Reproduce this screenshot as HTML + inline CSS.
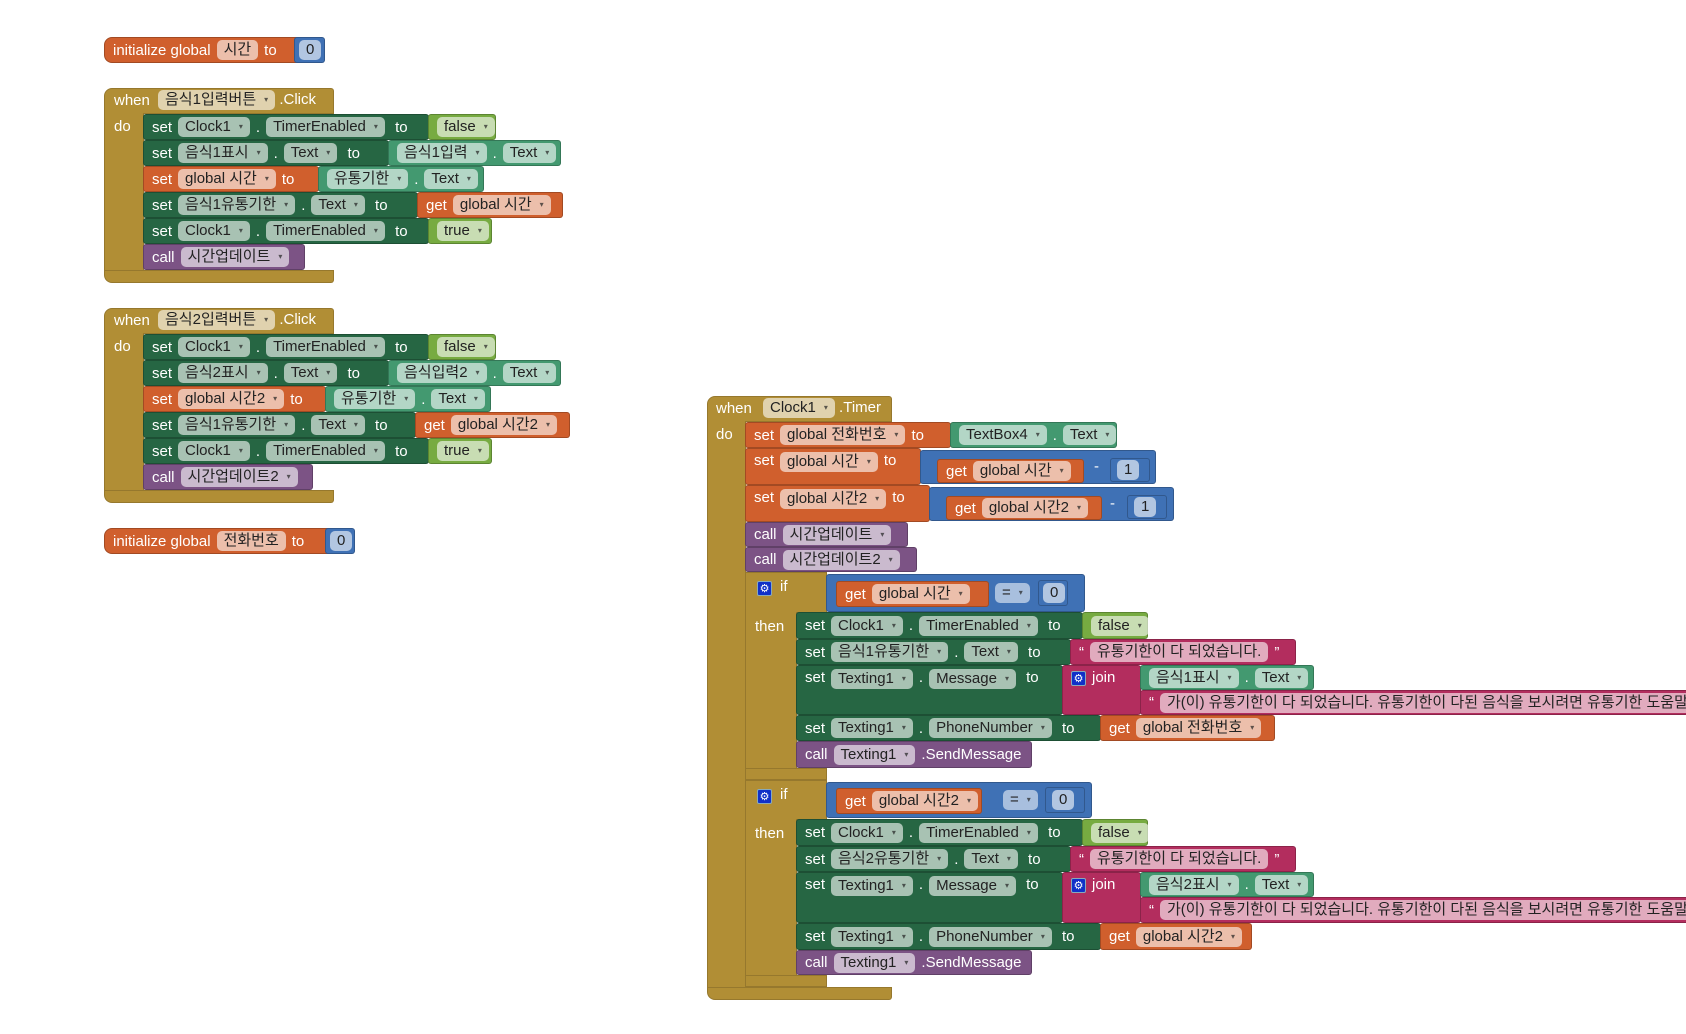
<!DOCTYPE html>
<html><head><meta charset="utf-8">
<style>
html,body{margin:0;width:1686px;height:1034px;overflow:hidden}
body{background:#fff;position:relative;font-family:"Liberation Sans","Noto Sans CJK KR",sans-serif;font-size:15px}
.b{position:absolute;box-sizing:border-box;display:flex;align-items:center;padding-left:8px;gap:6px;color:#fff;white-space:nowrap;border:1px solid rgba(0,0,0,.22);border-radius:3px;overflow:visible}
.top{align-items:flex-start;padding-top:3px}
.p{background:rgba(255,255,255,.6);color:#222;border-radius:5px;padding:0 7px;height:20px;line-height:20px;display:inline-block}
.p i{font-style:normal;font-size:8px;margin-left:8px;vertical-align:2px;opacity:.7}
.g{background:#b18e35}.dg{background:#266643}.tl{background:#439970}.or{background:#d05f2d}
.pu{background:#7c5385}.lm{background:#77ab41}.bl{background:#3f71b5}.mg{background:#b32d5e}
.gd{position:absolute;background:#b18e35;border:1px solid rgba(0,0,0,.15);box-sizing:border-box}
.lbl{position:absolute;color:#fff;font-size:15px}
.gear{display:inline-block;width:15px;height:15px;background:#1030c8;border:1px solid #8ab;border-radius:2px;color:#fff;font-size:11px;line-height:15px;text-align:center;box-sizing:border-box}
.clip{overflow:hidden;border-right:none;border-radius:3px 0 0 3px}
</style></head><body>

<div class="b or" style="left:104px;top:37px;width:193px;height:26px;border-radius:8px 0 0 8px">initialize global <span class="p">시간</span> to</div>
<div class="b bl" style="left:294px;top:37px;width:31px;height:26px;padding-left:4px"><span class="p">0</span></div>

<div class="gd" style="left:104px;top:88px;width:230px;height:26px;border-radius:8px 3px 0 0"></div>
<div class="lbl" style="left:114px;top:92px">when</div>
<div class="lbl" style="left:158px;top:90px"><span class="p" style="color:#222">음식1입력버튼<i>▾</i></span> .Click</div>
<div class="gd" style="left:104px;top:113px;width:40px;height:160px;border-top:none"></div>
<div class="lbl" style="left:114px;top:118px">do</div>
<div class="gd" style="left:104px;top:270px;width:230px;height:13px;border-radius:0 0 3px 8px"></div>

<div class="b dg" style="left:143px;top:114px;width:286px;height:26px">set <span class="p">Clock1<i>▾</i></span>.<span class="p">TimerEnabled<i>▾</i></span>&nbsp;to</div>
<div class="b lm" style="left:428px;top:114px;width:68px;height:26px"><span class="p">false<i>▾</i></span></div>
<div class="b dg" style="left:143px;top:140px;width:246px;height:26px">set <span class="p">음식1표시<i>▾</i></span>.<span class="p">Text<i>▾</i></span>&nbsp;to</div>
<div class="b tl" style="left:388px;top:140px;width:173px;height:26px"><span class="p">음식1입력<i>▾</i></span>.<span class="p">Text<i>▾</i></span></div>
<div class="b or" style="left:143px;top:166px;width:176px;height:26px">set<span class="p">global 시간<i>▾</i></span>to</div>
<div class="b tl" style="left:318px;top:166px;width:166px;height:26px"><span class="p">유통기한<i>▾</i></span>.<span class="p">Text<i>▾</i></span></div>
<div class="b dg" style="left:143px;top:192px;width:275px;height:26px">set <span class="p">음식1유통기한<i>▾</i></span>.<span class="p">Text<i>▾</i></span>&nbsp;to</div>
<div class="b or" style="left:417px;top:192px;width:146px;height:26px">get<span class="p">global 시간<i>▾</i></span></div>
<div class="b dg" style="left:143px;top:218px;width:286px;height:26px">set <span class="p">Clock1<i>▾</i></span>.<span class="p">TimerEnabled<i>▾</i></span>&nbsp;to</div>
<div class="b lm" style="left:428px;top:218px;width:64px;height:26px"><span class="p">true<i>▾</i></span></div>
<div class="b pu" style="left:143px;top:244px;width:162px;height:26px">call <span class="p">시간업데이트<i>▾</i></span></div>

<div class="gd" style="left:104px;top:308px;width:230px;height:26px;border-radius:8px 3px 0 0"></div>
<div class="lbl" style="left:114px;top:312px">when</div>
<div class="lbl" style="left:158px;top:310px"><span class="p" style="color:#222">음식2입력버튼<i>▾</i></span> .Click</div>
<div class="gd" style="left:104px;top:333px;width:40px;height:160px;border-top:none"></div>
<div class="lbl" style="left:114px;top:338px">do</div>
<div class="gd" style="left:104px;top:490px;width:230px;height:13px;border-radius:0 0 3px 8px"></div>

<div class="b dg" style="left:143px;top:334px;width:286px;height:26px">set <span class="p">Clock1<i>▾</i></span>.<span class="p">TimerEnabled<i>▾</i></span>&nbsp;to</div>
<div class="b lm" style="left:428px;top:334px;width:68px;height:26px"><span class="p">false<i>▾</i></span></div>
<div class="b dg" style="left:143px;top:360px;width:246px;height:26px">set <span class="p">음식2표시<i>▾</i></span>.<span class="p">Text<i>▾</i></span>&nbsp;to</div>
<div class="b tl" style="left:388px;top:360px;width:173px;height:26px"><span class="p">음식입력2<i>▾</i></span>.<span class="p">Text<i>▾</i></span></div>
<div class="b or" style="left:143px;top:386px;width:183px;height:26px">set<span class="p">global 시간2<i>▾</i></span>to</div>
<div class="b tl" style="left:325px;top:386px;width:166px;height:26px"><span class="p">유통기한<i>▾</i></span>.<span class="p">Text<i>▾</i></span></div>
<div class="b dg" style="left:143px;top:412px;width:273px;height:26px">set <span class="p">음식1유통기한<i>▾</i></span>.<span class="p">Text<i>▾</i></span>&nbsp;to</div>
<div class="b or" style="left:415px;top:412px;width:155px;height:26px">get<span class="p">global 시간2<i>▾</i></span></div>
<div class="b dg" style="left:143px;top:438px;width:286px;height:26px">set <span class="p">Clock1<i>▾</i></span>.<span class="p">TimerEnabled<i>▾</i></span>&nbsp;to</div>
<div class="b lm" style="left:428px;top:438px;width:64px;height:26px"><span class="p">true<i>▾</i></span></div>
<div class="b pu" style="left:143px;top:464px;width:170px;height:26px">call <span class="p">시간업데이트2<i>▾</i></span></div>

<div class="b or" style="left:104px;top:528px;width:224px;height:26px;border-radius:8px 0 0 8px">initialize global <span class="p">전화번호</span> to</div>
<div class="b bl" style="left:325px;top:528px;width:30px;height:26px;padding-left:4px"><span class="p">0</span></div>

<div class="gd" style="left:707px;top:396px;width:185px;height:26px;border-radius:8px 3px 0 0"></div>
<div class="lbl" style="left:716px;top:400px">when</div>
<div class="lbl" style="left:763px;top:398px"><span class="p" style="color:#222">Clock1<i>▾</i></span> .Timer</div>
<div class="gd" style="left:707px;top:421px;width:39px;height:570px;border-top:none"></div>
<div class="lbl" style="left:716px;top:426px">do</div>
<div class="gd" style="left:707px;top:987px;width:185px;height:13px;border-radius:0 0 3px 8px"></div>

<div class="b or" style="left:745px;top:422px;width:206px;height:26px">set<span class="p">global 전화번호<i>▾</i></span>to</div>
<div class="b tl" style="left:950px;top:422px;width:167px;height:26px"><span class="p">TextBox4<i>▾</i></span>.<span class="p">Text<i>▾</i></span></div>

<div class="b or top" style="left:745px;top:448px;width:176px;height:37px">set<span class="p">global 시간<i>▾</i></span>to</div>
<div class="b bl" style="left:920px;top:450px;width:236px;height:34px"></div>
<div class="b or" style="left:937px;top:459px;width:147px;height:24px">get<span class="p">global 시간<i>▾</i></span></div>
<div class="lbl" style="left:1094px;top:458px">-</div>
<div class="b bl" style="left:1110px;top:458px;width:40px;height:24px;padding-left:6px"><span class="p">1</span></div>

<div class="b or top" style="left:745px;top:485px;width:185px;height:37px">set<span class="p">global 시간2<i>▾</i></span>to</div>
<div class="b bl" style="left:929px;top:487px;width:245px;height:34px"></div>
<div class="b or" style="left:946px;top:496px;width:156px;height:24px">get<span class="p">global 시간2<i>▾</i></span></div>
<div class="lbl" style="left:1110px;top:495px">-</div>
<div class="b bl" style="left:1127px;top:495px;width:40px;height:24px;padding-left:6px"><span class="p">1</span></div>

<div class="b pu" style="left:745px;top:522px;width:163px;height:25px">call <span class="p">시간업데이트<i>▾</i></span></div>
<div class="b pu" style="left:745px;top:547px;width:172px;height:25px">call <span class="p">시간업데이트2<i>▾</i></span></div>

<div class="gd" style="left:745px;top:572px;width:82px;height:41px"></div>
<div class="gd" style="left:745px;top:612px;width:52px;height:160px;border-top:none"></div>
<div class="gd" style="left:745px;top:768px;width:82px;height:12px"></div>
<div class="lbl" style="left:757px;top:579px"><span class="gear">⚙</span></div>
<div class="lbl" style="left:780px;top:578px">if</div>
<div class="lbl" style="left:755px;top:618px">then</div>
<div class="b bl" style="left:826px;top:574px;width:259px;height:38px"></div>
<div class="b or" style="left:836px;top:581px;width:153px;height:26px">get<span class="p">global 시간<i>▾</i></span></div>
<div class="lbl" style="left:995px;top:583px"><span class="p" style="color:#222;background:rgba(255,255,255,.55)">=<i>▾</i></span></div>
<div class="b bl" style="left:1038px;top:580px;width:30px;height:26px;padding-left:4px"><span class="p">0</span></div>

<div class="b dg" style="left:796px;top:612px;width:287px;height:27px">set <span class="p">Clock1<i>▾</i></span>.<span class="p">TimerEnabled<i>▾</i></span>&nbsp;to</div>
<div class="b lm" style="left:1082px;top:612px;width:66px;height:27px"><span class="p">false<i>▾</i></span></div>
<div class="b dg" style="left:796px;top:639px;width:275px;height:26px">set <span class="p">음식1유통기한<i>▾</i></span>.<span class="p">Text<i>▾</i></span>&nbsp;to</div>
<div class="b mg" style="left:1070px;top:639px;width:226px;height:26px">“<span class="p">유통기한이 다 되었습니다.</span>”</div>
<div class="b dg top" style="left:796px;top:665px;width:267px;height:50px">set <span class="p">Texting1<i>▾</i></span>.<span class="p">Message<i>▾</i></span>&nbsp;to</div>
<div class="b mg top" style="left:1062px;top:665px;width:79px;height:50px"><span class="gear" style="margin-top:2px">⚙</span>join</div>
<div class="b tl" style="left:1140px;top:665px;width:174px;height:25px"><span class="p">음식1표시<i>▾</i></span>.<span class="p">Text<i>▾</i></span></div>
<div class="b mg clip" style="left:1140px;top:690px;width:546px;height:25px">“<span class="p">가(이) 유통기한이 다 되었습니다. 유통기한이 다된 음식을 보시려면 유통기한 도움말을 확인하세요</span></div>
<div class="b dg" style="left:796px;top:715px;width:305px;height:26px">set <span class="p">Texting1<i>▾</i></span>.<span class="p">PhoneNumber<i>▾</i></span>&nbsp;to</div>
<div class="b or" style="left:1100px;top:715px;width:175px;height:26px">get<span class="p">global 전화번호<i>▾</i></span></div>
<div class="b pu" style="left:796px;top:741px;width:236px;height:27px">call <span class="p">Texting1<i>▾</i></span>.SendMessage</div>

<div class="gd" style="left:745px;top:780px;width:82px;height:40px"></div>
<div class="gd" style="left:745px;top:819px;width:52px;height:160px;border-top:none"></div>
<div class="gd" style="left:745px;top:975px;width:82px;height:12px"></div>
<div class="lbl" style="left:757px;top:787px"><span class="gear">⚙</span></div>
<div class="lbl" style="left:780px;top:786px">if</div>
<div class="lbl" style="left:755px;top:825px">then</div>
<div class="b bl" style="left:826px;top:782px;width:266px;height:36px"></div>
<div class="b or" style="left:836px;top:788px;width:146px;height:26px">get<span class="p">global 시간2<i>▾</i></span></div>
<div class="lbl" style="left:1003px;top:790px"><span class="p" style="color:#222;background:rgba(255,255,255,.55)">=<i>▾</i></span></div>
<div class="b bl" style="left:1045px;top:787px;width:40px;height:26px;padding-left:6px"><span class="p">0</span></div>

<div class="b dg" style="left:796px;top:819px;width:287px;height:27px">set <span class="p">Clock1<i>▾</i></span>.<span class="p">TimerEnabled<i>▾</i></span>&nbsp;to</div>
<div class="b lm" style="left:1082px;top:819px;width:66px;height:27px"><span class="p">false<i>▾</i></span></div>
<div class="b dg" style="left:796px;top:846px;width:275px;height:26px">set <span class="p">음식2유통기한<i>▾</i></span>.<span class="p">Text<i>▾</i></span>&nbsp;to</div>
<div class="b mg" style="left:1070px;top:846px;width:226px;height:26px">“<span class="p">유통기한이 다 되었습니다.</span>”</div>
<div class="b dg top" style="left:796px;top:872px;width:267px;height:51px">set <span class="p">Texting1<i>▾</i></span>.<span class="p">Message<i>▾</i></span>&nbsp;to</div>
<div class="b mg top" style="left:1062px;top:872px;width:79px;height:51px"><span class="gear" style="margin-top:2px">⚙</span>join</div>
<div class="b tl" style="left:1140px;top:872px;width:174px;height:25px"><span class="p">음식2표시<i>▾</i></span>.<span class="p">Text<i>▾</i></span></div>
<div class="b mg clip" style="left:1140px;top:897px;width:546px;height:26px">“<span class="p">가(이) 유통기한이 다 되었습니다. 유통기한이 다된 음식을 보시려면 유통기한 도움말을 확인하세요</span></div>
<div class="b dg" style="left:796px;top:923px;width:305px;height:27px">set <span class="p">Texting1<i>▾</i></span>.<span class="p">PhoneNumber<i>▾</i></span>&nbsp;to</div>
<div class="b or" style="left:1100px;top:923px;width:152px;height:27px">get<span class="p">global 시간2<i>▾</i></span></div>
<div class="b pu" style="left:796px;top:950px;width:236px;height:25px">call <span class="p">Texting1<i>▾</i></span>.SendMessage</div>

</body></html>
